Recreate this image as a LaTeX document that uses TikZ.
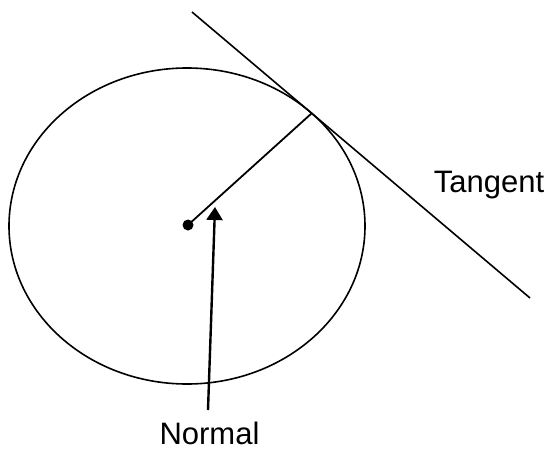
\documentclass[tikz,border=0pt]{standalone}
\usepackage{fontspec}
\setmainfont{Liberation Sans}
\usetikzlibrary{arrows.meta}
\begin{document}
\begin{tikzpicture}[x=1pt,y=-1pt,line width=1.6pt,
  lbl/.style={font=\fontsize{31}{36}\selectfont,inner sep=0pt,anchor=base},
  dotnode/.style={circle,fill=black,inner sep=0pt,minimum size=11pt}]
\useasboundingbox (0,0) rectangle (552,450);
\draw (187,226) ellipse [x radius=178, y radius=158];
\node[dotnode] (dot) at (188,225) {};
\coordinate (tp) at (312,113);
\coordinate (t1) at (192,12);
\coordinate (t2) at (530,298);
\draw (t1) -- (t2);
\draw[line width=1.8pt] (dot.center) -- (tp);
\node[lbl] (tan) at (489,192) {Tangent};
\node[lbl] (nor) at (209.5,444) {Normal};
\coordinate (as) at (208,410);
\coordinate (ae) at (215,207);
\draw[-{Triangle[length=13pt,width=16pt]},line width=2.4pt] (as) -- (ae);
\end{tikzpicture}
\end{document}
